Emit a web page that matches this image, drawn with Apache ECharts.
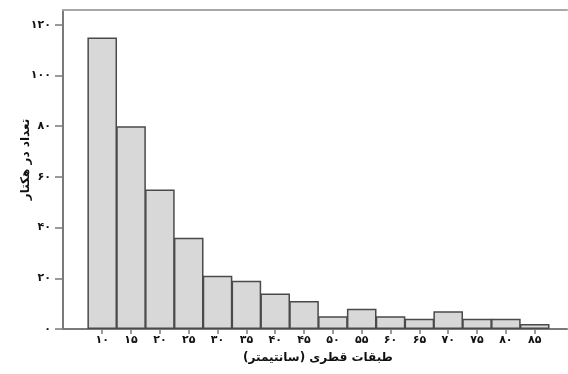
<!DOCTYPE html>
<html><head><meta charset="utf-8">
<script src="https://cdn.jsdelivr.net/npm/echarts@6/dist/echarts.min.js"></script>
<style>html,body{margin:0;padding:0;background:#fff}#c{width:568px;height:374px}</style>
</head><body><div id="c"></div>
<script>
const classes = [10,15,20,25,30,35,40,45,50,55,60,65,70,75,80,85];
const counts = [115,80,55,36,21,19,14,11,5,8,5,4,7,4,4,2];
const yTicks = [0,20,40,60,80,100,120];
const xTitle = 'طبقات قطری (سانتیمتر)';
const yTitle = 'تعداد در هکتار';

const fa = v => String(v).replace(/\d/g, d => '۰۱۲۳۴۵۶۷۸۹'[d]);
const chart = echarts.init(document.getElementById('c'));
const font = 'DejaVu Sans';
chart.setOption({
  animation: false,
  backgroundColor: '#fff',
  grid: {left: 63, right: 1, top: 10, bottom: 45},
  xAxis: [{
    type: 'value', min: 3.2, max: 90.6,
    splitLine: {show: false},
    axisLine: {lineStyle: {color: '#7a7a7a', width: 2}},
    axisTick: {customValues: classes, length: 5, lineStyle: {color: '#7a7a7a', width: 1.5}},
    axisLabel: {customValues: classes, formatter: v => fa(v), color: '#111', fontFamily: font, fontWeight: 'bold', fontSize: 11, margin: 6},
    name: xTitle, nameLocation: 'middle', nameGap: 23,
    nameTextStyle: {color: '#111', fontFamily: font, fontWeight: 'bold', fontSize: 12, padding: [0, 0, 0, 6]}
  }, {
    type: 'value', position: 'top', min: 3.2, max: 90.6,
    splitLine: {show: false}, axisTick: {show: false}, axisLabel: {show: false},
    axisLine: {show: true, lineStyle: {color: '#a8a8a8', width: 2}}
  }],
  yAxis: {
    type: 'value', min: 0, max: 125.8,
    splitLine: {show: false},
    axisLine: {show: true, lineStyle: {color: '#7a7a7a', width: 2}},
    axisTick: {show: true, customValues: yTicks, length: 8, lineStyle: {color: '#7a7a7a', width: 1.5}},
    axisLabel: {customValues: yTicks, formatter: v => fa(v), color: '#111', fontFamily: font, fontWeight: 'bold', fontSize: 11, margin: 12},
    name: yTitle, nameLocation: 'middle', nameGap: 31, nameRotate: 90, nameMoveOverlap: false,
    nameTextStyle: {color: '#111', fontFamily: font, fontWeight: 'bold', fontSize: 12, padding: [0, 0, 0, 20]}
  },
  series: [{
    type: 'bar',
    data: classes.map((c, i) => [c, counts[i]]),
    barWidth: 29.6,
    itemStyle: {color: '#d8d8d8', borderColor: '#4a4a4a', borderWidth: 1.5}
  }]
});
</script></body></html>
